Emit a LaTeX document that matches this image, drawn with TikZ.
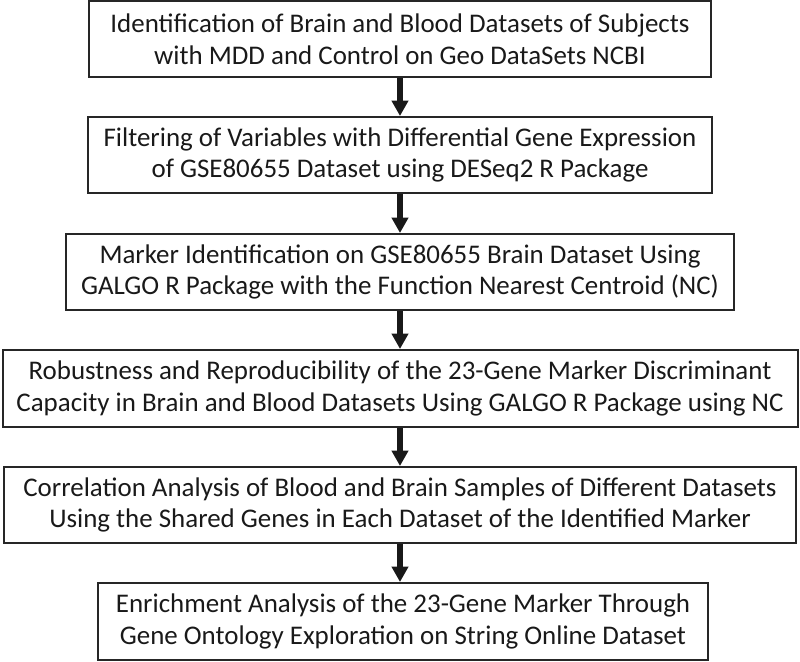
\documentclass[tikz,border=0pt]{standalone}
\usepackage{fontspec}
\setmainfont{Carlito}
\usetikzlibrary{arrows.meta}
\begin{document}
\begin{tikzpicture}[x=0.75pt,y=-0.75pt,
  stepbox/.style={draw=black!85,line width=1.5pt,align=center,inner sep=0pt,
    font=\fontsize{20.2}{23.8}\selectfont,text=black!90},
  arr/.style={line width=4.5pt,draw=black!90,-{Triangle[length=11.5pt,width=12pt]}}]
\useasboundingbox (0,0) rectangle (800,661);
\node[stepbox,minimum width=622*0.75pt,minimum height=76*0.75pt] (b1) at (400,39)
  {Identification of Brain and Blood Datasets of Subjects\\with MDD and Control on Geo DataSets NCBI};
\node[stepbox,minimum width=624*0.75pt,minimum height=76*0.75pt] (b2) at (400,155)
  {Filtering of Variables with Differential Gene Expression\\of GSE80655 Dataset using DESeq2 R Package};
\node[stepbox,minimum width=668*0.75pt,minimum height=76*0.75pt] (b3) at (400,272)
  {Marker Identification on GSE80655 Brain Dataset Using\\GALGO R Package with the Function Nearest Centroid (NC)};
\node[stepbox,minimum width=795*0.75pt,minimum height=77*0.75pt] (b4) at (400,388.5)
  {Robustness and Reproducibility of the 23-Gene Marker Discriminant\\Capacity in Brain and Blood Datasets Using GALGO R Package using NC};
\node[stepbox,minimum width=792*0.75pt,minimum height=76*0.75pt] (b5) at (400,505)
  {Correlation Analysis of Blood and Brain Samples of Different Datasets\\Using the Shared Genes in Each Dataset of the Identified Marker};
\node[stepbox,minimum width=610*0.75pt,minimum height=77*0.75pt] (b6) at (403,621.5)
  {Enrichment Analysis of the 23-Gene Marker Through\\Gene Ontology Exploration on String Online Dataset};
\draw[arr] (b1.south -| 400,0) -- (b2.north -| 400,0);
\draw[arr] (b2) -- (b3);
\draw[arr] (b3) -- (b4);
\draw[arr] (b4) -- (b5);
\draw[arr] (b5.south -| 400,0) -- (b6.north -| 400,0);
\end{tikzpicture}
\end{document}
